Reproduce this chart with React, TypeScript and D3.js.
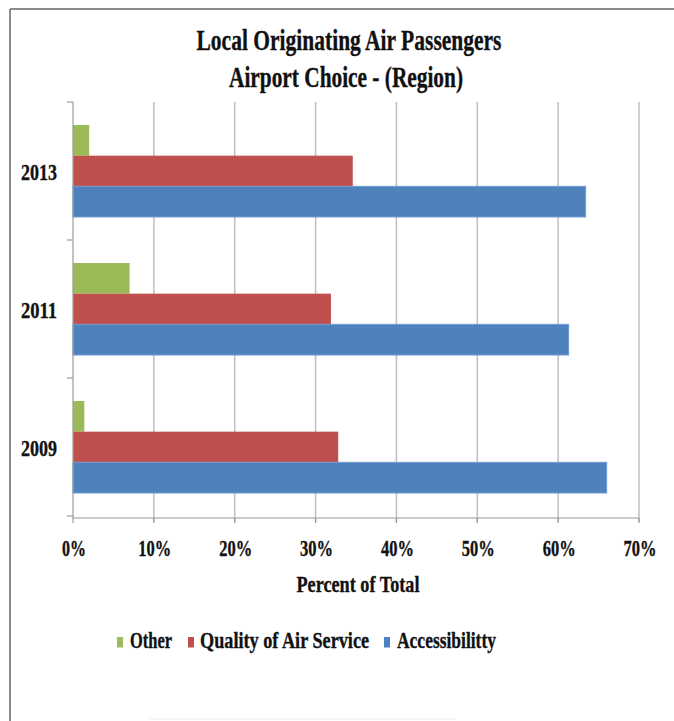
import React, { useLayoutEffect, useRef, useState } from "react";
import * as d3 from "d3";

const years = ["2013", "2011", "2009"];
const seriesNames = ["Other", "Quality of Air Service", "Accessibilitty"];
const otherValues = [2.0, 7.0, 1.4];
const qualityValues = [34.6, 31.9, 32.8];
const accessValues = [63.4, 61.3, 66.0];
const seriesColors = ["#9BBB59", "#C0504D", "#4F81BD"];
const xTicks = [0, 10, 20, 30, 40, 50, 60, 70];
const titleLines = ["Local Originating Air Passengers", "Airport Choice - (Region)"];
const xAxisTitle = "Percent of Total";

const W = 674;
const H = 721;
const FONT = "'Liberation Serif', 'Times New Roman', serif";

type FitProps = {
  x: number;
  y: number;
  width: number;
  size: number;
  anchor?: "start" | "middle" | "end";
  children: string;
};

function FitText({ x, y, width, size, anchor = "start", children }: FitProps) {
  const ref = useRef<SVGTextElement>(null);
  const [sx, setSx] = useState(0.75);
  useLayoutEffect(() => {
    if (ref.current) {
      const w = ref.current.getComputedTextLength();
      if (w > 0) setSx(width / w);
    }
  }, [width, children, size]);
  return (
    <text
      ref={ref}
      transform={`translate(${x},${y}) scale(${sx},1)`}
      textAnchor={anchor}
      fontFamily={FONT}
      fontWeight="bold"
      fontSize={size}
      fill="#111"
      stroke="#111"
      strokeWidth={0.35}
    >
      {children}
    </text>
  );
}

export default function App() {
  const x = d3.scaleLinear().domain([0, 70]).range([73, 639]);
  const y = d3.scaleBand<string>().domain(years).range([102, 516]).padding(0);
  const groupInner = y.bandwidth() * (3 / 4.5);
  const inner = d3
    .scaleBand<number>()
    .domain([0, 1, 2])
    .range([(y.bandwidth() - groupInner) / 2, (y.bandwidth() + groupInner) / 2]);

  const series = [otherValues, qualityValues, accessValues];
  const plotTop = 102;
  const plotBottom = 518;

  const tickLabelWidth = (t: number) => (t === 0 ? 24 : 33);

  const legendItems = [
    { rx: 117, tx: 130, tw: 42 },
    { rx: 188, tx: 200, tw: 169 },
    { rx: 384, tx: 397, tw: 99 },
  ];

  return (
    <svg
      width={W}
      height={H}
      style={{ position: "absolute", left: 0, top: 0, background: "#fff" }}
    >
      <rect x={0} y={0} width={W} height={H} fill="#fff" />
      <line x1={10} y1={9} x2={W} y2={9} stroke="#8a8a8a" strokeWidth={2} />
      <line x1={10} y1={9} x2={10} y2={H} stroke="#8a8a8a" strokeWidth={2} />
      <line x1={150} y1={719} x2={455} y2={719} stroke="#ececec" strokeWidth={1} />

      <FitText x={349} y={50} width={305} size={30} anchor="middle">
        {titleLines[0]}
      </FitText>
      <FitText x={346} y={87} width={234} size={30} anchor="middle">
        {titleLines[1]}
      </FitText>

      {xTicks
        .filter((t) => t > 0)
        .map((t) => (
          <line
            key={"g" + t}
            x1={x(t)}
            x2={x(t)}
            y1={plotTop}
            y2={plotBottom + 4}
            stroke="#bfbfbf"
            strokeWidth={1.5}
          />
        ))}

      {years.map((yr, i) => (
        <g key={yr} transform={`translate(0,${y(yr)})`}>
          {series.map((vals, s) => (
            <rect
              key={s}
              x={x(0)}
              y={inner(s)}
              width={x(vals[i]) - x(0)}
              height={inner.bandwidth()}
              fill={seriesColors[s]}
              stroke={s === 2 ? "#6f9ad0" : "none"}
              strokeWidth={s === 2 ? 1 : 0}
            />
          ))}
        </g>
      ))}

      <line x1={x(0)} x2={x(0)} y1={plotTop} y2={plotBottom} stroke="#9a9a9a" strokeWidth={1.2} />
      {[...years.map((yr) => y(yr) as number), 516].map((v, i) => (
        <line key={"yt" + i} x1={67} x2={x(0)} y1={v} y2={v} stroke="#9a9a9a" strokeWidth={1.2} />
      ))}
      <line x1={x(0)} x2={x(70)} y1={plotBottom} y2={plotBottom} stroke="#9a9a9a" strokeWidth={1.2} />
      {xTicks.map((t) => (
        <line
          key={"xt" + t}
          x1={x(t)}
          x2={x(t)}
          y1={plotBottom}
          y2={plotBottom + 5}
          stroke="#9a9a9a"
          strokeWidth={1.2}
        />
      ))}

      {years.map((yr) => (
        <FitText
          key={"yl" + yr}
          x={57}
          y={(y(yr) as number) + y.bandwidth() / 2 + 9}
          width={36}
          size={24}
          anchor="end"
        >
          {yr}
        </FitText>
      ))}

      {xTicks.map((t) => (
        <FitText key={"xl" + t} x={x(t) + 1} y={556} width={tickLabelWidth(t)} size={24} anchor="middle">
          {t + "%"}
        </FitText>
      ))}

      <FitText x={358} y={592} width={123} size={24} anchor="middle">
        {xAxisTitle}
      </FitText>

      {seriesNames.map((name, i) => (
        <g key={"lg" + i}>
          <rect x={legendItems[i].rx} y={637} width={6} height={10.5} fill={seriesColors[i]} />
          <FitText x={legendItems[i].tx} y={648} width={legendItems[i].tw} size={24}>
            {name}
          </FitText>
        </g>
      ))}
    </svg>
  );
}
